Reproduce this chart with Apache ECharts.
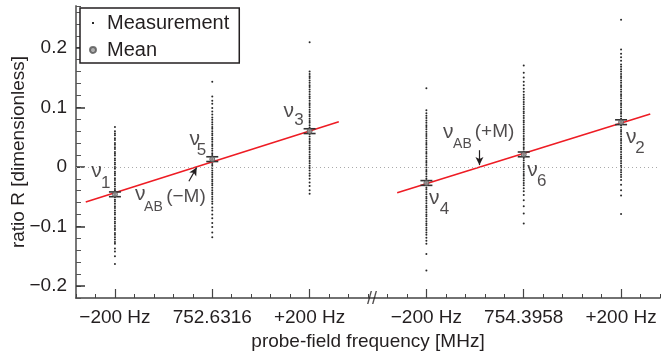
<!DOCTYPE html>
<html>
<head>
<meta charset="utf-8">
<title>ratio R</title>
<script src="https://cdn.jsdelivr.net/npm/echarts@6/dist/echarts.min.js"></script>
<style>
  html, body { margin: 0; padding: 0; background: #fff; }
  #container { width: 668px; height: 352px; }
</style>
</head>
<body>
<div id="container"></div>
<script>
// x positions in Hz; left group centred on 752.6316 MHz, right group on 754.3958 MHz (shifted by 640)
var measX = [-200, 0, 200, 440, 640, 840];
var xTickValues = [-200, 0, 200, 440, 640, 840];
var xTickLabels = ['\u2212200 Hz', '752.6316', '+200 Hz', '\u2212200 Hz', '754.3958', '+200 Hz'];
var yTickValues = [-0.2, -0.1, 0, 0.1, 0.2];

// single measurements, one column per probe frequency
var measNu1 = [0.067, 0.060, 0.056, 0.053, 0.048, 0.045, 0.040, 0.037, 0.033, 0.030, 0.025, 0.022, 0.019, 0.014,
  0.011, 0.007, 0.004, 0.000, -0.003, -0.008, -0.011, -0.014, -0.019, -0.022, -0.026, -0.029, -0.033, -0.037,
  -0.040, -0.044, -0.048, -0.051, -0.055, -0.058, -0.062, -0.066, -0.069, -0.073, -0.077, -0.080, -0.085,
  -0.088, -0.092, -0.095, -0.099, -0.103, -0.106, -0.111, -0.114, -0.118, -0.122, -0.126, -0.129, -0.137,
  -0.142, -0.150, -0.163];
var measNu5 = [0.143, 0.118, 0.111, 0.106, 0.099, 0.093, 0.088, 0.083, 0.079, 0.075, 0.071, 0.067, 0.064, 0.060,
  0.056, 0.053, 0.049, 0.046, 0.042, 0.038, 0.035, 0.031, 0.027, 0.023, 0.020, 0.016, 0.012, 0.009, 0.005,
  0.002, -0.002, -0.006, -0.010, -0.013, -0.017, -0.021, -0.024, -0.028, -0.031, -0.035, -0.039, -0.043,
  -0.046, -0.050, -0.054, -0.058, -0.062, -0.068, -0.073, -0.080, -0.086, -0.094, -0.101, -0.110, -0.118];
var measNu3 = [0.209, 0.160, 0.156, 0.152, 0.149, 0.145, 0.141, 0.137, 0.134, 0.130, 0.126, 0.122, 0.118, 0.115,
  0.111, 0.107, 0.104, 0.100, 0.096, 0.092, 0.088, 0.085, 0.081, 0.077, 0.074, 0.070, 0.066, 0.062, 0.058,
  0.055, 0.051, 0.047, 0.043, 0.040, 0.036, 0.032, 0.029, 0.025, 0.021, 0.017, 0.014, 0.010, 0.006, 0.002,
  -0.002, -0.006, -0.011, -0.015, -0.020, -0.026, -0.032, -0.039, -0.045];
var measNu4 = [0.132, 0.095, 0.090, 0.086, 0.082, 0.078, 0.074, 0.070, 0.067, 0.063, 0.059, 0.055, 0.052, 0.048,
  0.044, 0.040, 0.037, 0.033, 0.029, 0.025, 0.022, 0.018, 0.014, 0.010, 0.007, 0.003, -0.001, -0.005, -0.008,
  -0.012, -0.016, -0.020, -0.023, -0.027, -0.031, -0.035, -0.038, -0.042, -0.046, -0.050, -0.053, -0.057,
  -0.061, -0.065, -0.068, -0.072, -0.076, -0.080, -0.083, -0.087, -0.091, -0.095, -0.098, -0.102, -0.106,
  -0.110, -0.114, -0.119, -0.124, -0.129, -0.146, -0.174];
var measNu6 = [0.170, 0.158, 0.150, 0.143, 0.137, 0.131, 0.126, 0.121, 0.117, 0.113, 0.109, 0.105, 0.101, 0.097,
  0.093, 0.090, 0.086, 0.082, 0.078, 0.075, 0.071, 0.067, 0.063, 0.060, 0.056, 0.052, 0.048, 0.045, 0.041,
  0.037, 0.033, 0.030, 0.026, 0.022, 0.018, 0.015, 0.011, 0.007, 0.003, 0.000, -0.004, -0.008, -0.012, -0.015,
  -0.019, -0.023, -0.027, -0.031, -0.036, -0.041, -0.047, -0.056, -0.066, -0.078, -0.095];
var measNu2 = [0.247, 0.197, 0.190, 0.184, 0.178, 0.172, 0.168, 0.164, 0.160, 0.156, 0.152, 0.149, 0.145, 0.141,
  0.137, 0.134, 0.130, 0.126, 0.122, 0.119, 0.115, 0.111, 0.107, 0.104, 0.100, 0.096, 0.092, 0.089, 0.085,
  0.081, 0.077, 0.074, 0.070, 0.066, 0.062, 0.059, 0.055, 0.051, 0.047, 0.044, 0.040, 0.036, 0.032, 0.029,
  0.025, 0.021, 0.017, 0.014, 0.010, 0.006, 0.002, -0.001, -0.005, -0.009, -0.013, -0.017, -0.022, -0.030,
  -0.039, -0.048, -0.079];
var measColumns = [measNu1, measNu5, measNu3, measNu4, measNu6, measNu2];

var meanValues = [-0.046, 0.013, 0.060, -0.027, 0.021, 0.075];
var meanErrors = [0.004, 0.004, 0.004, 0.004, 0.004, 0.004];

// linear fits, end points
var fitLeft = [[-260, -0.059], [260, 0.0757]];
var fitRight = [[380, -0.0433], [900, 0.0889]];

// annotation texts and where they sit (data units)
var notes = [
  ['\u03bd', -238, -0.008, 21], ['1', -219, -0.027, 17],
  ['\u03bd', -36, 0.046, 21], ['5', -22, 0.028, 17],
  ['\u03bd', 157, 0.094, 21], ['3', 178, 0.078, 17],
  ['\u03bd', -148, -0.046, 21], ['AB', -121, -0.067, 14], ['(\u2212M)', -54, -0.050, 19],
  ['\u03bd', 485, 0.058, 21], ['AB', 514, 0.039, 14], ['(+M)', 580, 0.059, 19],
  ['\u03bd', 456, -0.053, 21], ['4', 477, -0.071, 17],
  ['\u03bd', 658, -0.006, 21], ['6', 677, -0.024, 17],
  ['\u03bd', 861, 0.049, 21], ['2', 879, 0.031, 17]
];
var arrows = [
  [[-48, -0.024], [-32, -0.001]],
  [[549, 0.028], [549, 0.003]]
];

var FONT = 'Liberation Sans';
var INK = '#231f20';

var measData = [];
measColumns.forEach(function (col, i) {
  col.forEach(function (v) { measData.push([measX[i], v]); });
});
var meanData = meanValues.map(function (v, i) { return [measX[i], v, meanErrors[i]]; });

var myChart = echarts.init(document.getElementById('container'));
var option = {
  backgroundColor: '#fff',
  animation: false,
  textStyle: { fontFamily: FONT, color: INK },
  grid: { left: 76, right: 8, top: 6, bottom: 54, outerBoundsMode: 'none', containLabel: false },
  legend: {
    left: 80, top: 8, orient: 'vertical',
    itemWidth: 18, itemHeight: 12, itemGap: 7,
    padding: [5, 10, 3, 6],
    borderColor: INK, borderWidth: 1.5, backgroundColor: '#fff',
    textStyle: { fontSize: 20, color: INK, fontFamily: FONT },
    data: [
      { name: 'Measurement', icon: 'path://M0,0M12,12M5,5h2v2h-2z' },
      { name: 'Mean', icon: 'path://M0,0M12,12M9,6a3,3 0 1,1 0,-0.01z' }
    ]
  },
  xAxis: [
    {
      type: 'value', min: -280, max: 920, interval: 40,
      axisLine: { onZero: false, lineStyle: { color: '#444', width: 1.5 } },
      axisTick: { inside: true, length: 4, lineStyle: { color: '#444' } },
      axisLabel: { show: false },
      splitLine: { show: false }
    },
    {
      type: 'value', min: -280, max: 920, position: 'bottom',
      name: 'probe-field frequency [MHz]', nameLocation: 'middle', nameGap: 34, nameMoveOverlap: false,
      nameTextStyle: { fontSize: 19, color: INK, fontFamily: FONT },
      axisLine: { show: false, onZero: false },
      axisTick: { inside: true, length: 9, customValues: xTickValues, lineStyle: { color: '#444', width: 1.2 } },
      axisLabel: {
        customValues: xTickValues, margin: 10, fontSize: 19, color: INK, fontFamily: FONT,
        formatter: function (v) { return xTickLabels[xTickValues.indexOf(v)]; }
      },
      splitLine: { show: false }
    }
  ],
  yAxis: [
    {
      type: 'value', min: -0.22, max: 0.27, interval: 0.02,
      axisLine: { show: true, onZero: false, lineStyle: { color: '#777', width: 2 } },
      axisTick: { show: true, inside: true, length: 5, lineStyle: { color: '#555' } },
      axisLabel: { show: false },
      splitLine: { show: false }
    },
    {
      type: 'value', min: -0.22, max: 0.27, position: 'left',
      name: 'ratio R [dimensionless]', nameLocation: 'middle', nameGap: 48, nameMoveOverlap: false,
      nameTextStyle: { fontSize: 19, color: INK, fontFamily: FONT },
      axisLine: { show: false, onZero: false },
      axisTick: { show: true, inside: true, length: 9, customValues: yTickValues, lineStyle: { color: '#333', width: 1.5 } },
      axisLabel: {
        customValues: yTickValues, margin: 9, fontSize: 19, color: INK, fontFamily: FONT,
        formatter: function (v) { return v === 0 ? '0' : String(v).replace('-', '\u2212'); }
      },
      splitLine: { show: false }
    }
  ],
  series: [
    {
      name: 'zero', type: 'line', data: [], silent: true,
      markLine: {
        silent: true, symbol: 'none', label: { show: false },
        lineStyle: { color: '#aaa', type: [1, 3], width: 1 },
        data: [{ yAxis: 0 }]
      }
    },
    {
      name: 'Measurement', type: 'scatter', data: measData,
      symbol: 'circle', symbolSize: 2,
      itemStyle: { color: '#111', opacity: 0.9 }, z: 2
    },
    {
      name: 'fitLeft', type: 'line', data: fitLeft, symbol: 'none',
      lineStyle: { color: '#ee1c24', width: 1.6 }, z: 3
    },
    {
      name: 'fitRight', type: 'line', data: fitRight, symbol: 'none',
      lineStyle: { color: '#ee1c24', width: 1.6 }, z: 3
    },
    {
      name: 'errors', type: 'custom', data: meanData, z: 4,
      renderItem: function (params, api) {
        var x = api.value(0), m = api.value(1), e = api.value(2);
        var hi = api.coord([x, m + e]), lo = api.coord([x, m - e]);
        var hw = 6;
        var st = { stroke: '#333', lineWidth: 1.6 };
        return {
          type: 'group',
          children: [
            { type: 'line', shape: { x1: hi[0] - hw, y1: hi[1], x2: hi[0] + hw, y2: hi[1] }, style: st },
            { type: 'line', shape: { x1: lo[0] - hw, y1: lo[1], x2: lo[0] + hw, y2: lo[1] }, style: st },
            { type: 'line', shape: { x1: hi[0], y1: hi[1], x2: lo[0], y2: lo[1] }, style: st }
          ]
        };
      }
    },
    {
      name: 'Mean', type: 'scatter', data: meanData, symbol: 'circle', symbolSize: 5, z: 5,
      itemStyle: { color: '#9a9a9a', borderColor: '#555', borderWidth: 1 }
    },
    {
      name: 'notes', type: 'scatter', symbolSize: 0, silent: true, z: 6,
      data: notes.map(function (n) {
        return { name: n[0], value: [n[1], n[2]], label: { fontSize: n[3] } };
      }),
      label: {
        show: true, position: 'inside', formatter: '{b}',
        color: INK, fontFamily: FONT
      }
    },
    {
      name: 'arrows', type: 'line', data: [], silent: true,
      markLine: {
        silent: true, symbol: ['none', 'arrow'], symbolSize: [6, 8], label: { show: false },
        lineStyle: { color: INK, type: 'solid', width: 1.2 },
        data: arrows.map(function (a) { return [{ coord: a[0] }, { coord: a[1] }]; })
      }
    },
    {
      name: 'break', type: 'scatter', symbolSize: 0, silent: true, z: 6, clip: false,
      data: [{ name: '//', value: [328, -0.22] }],
      label: { show: true, position: 'inside', offset: [0, 1], formatter: '{b}', fontSize: 18, color: INK, fontFamily: FONT }
    }
  ]
};
myChart.setOption(option);
</script>
</body>
</html>
